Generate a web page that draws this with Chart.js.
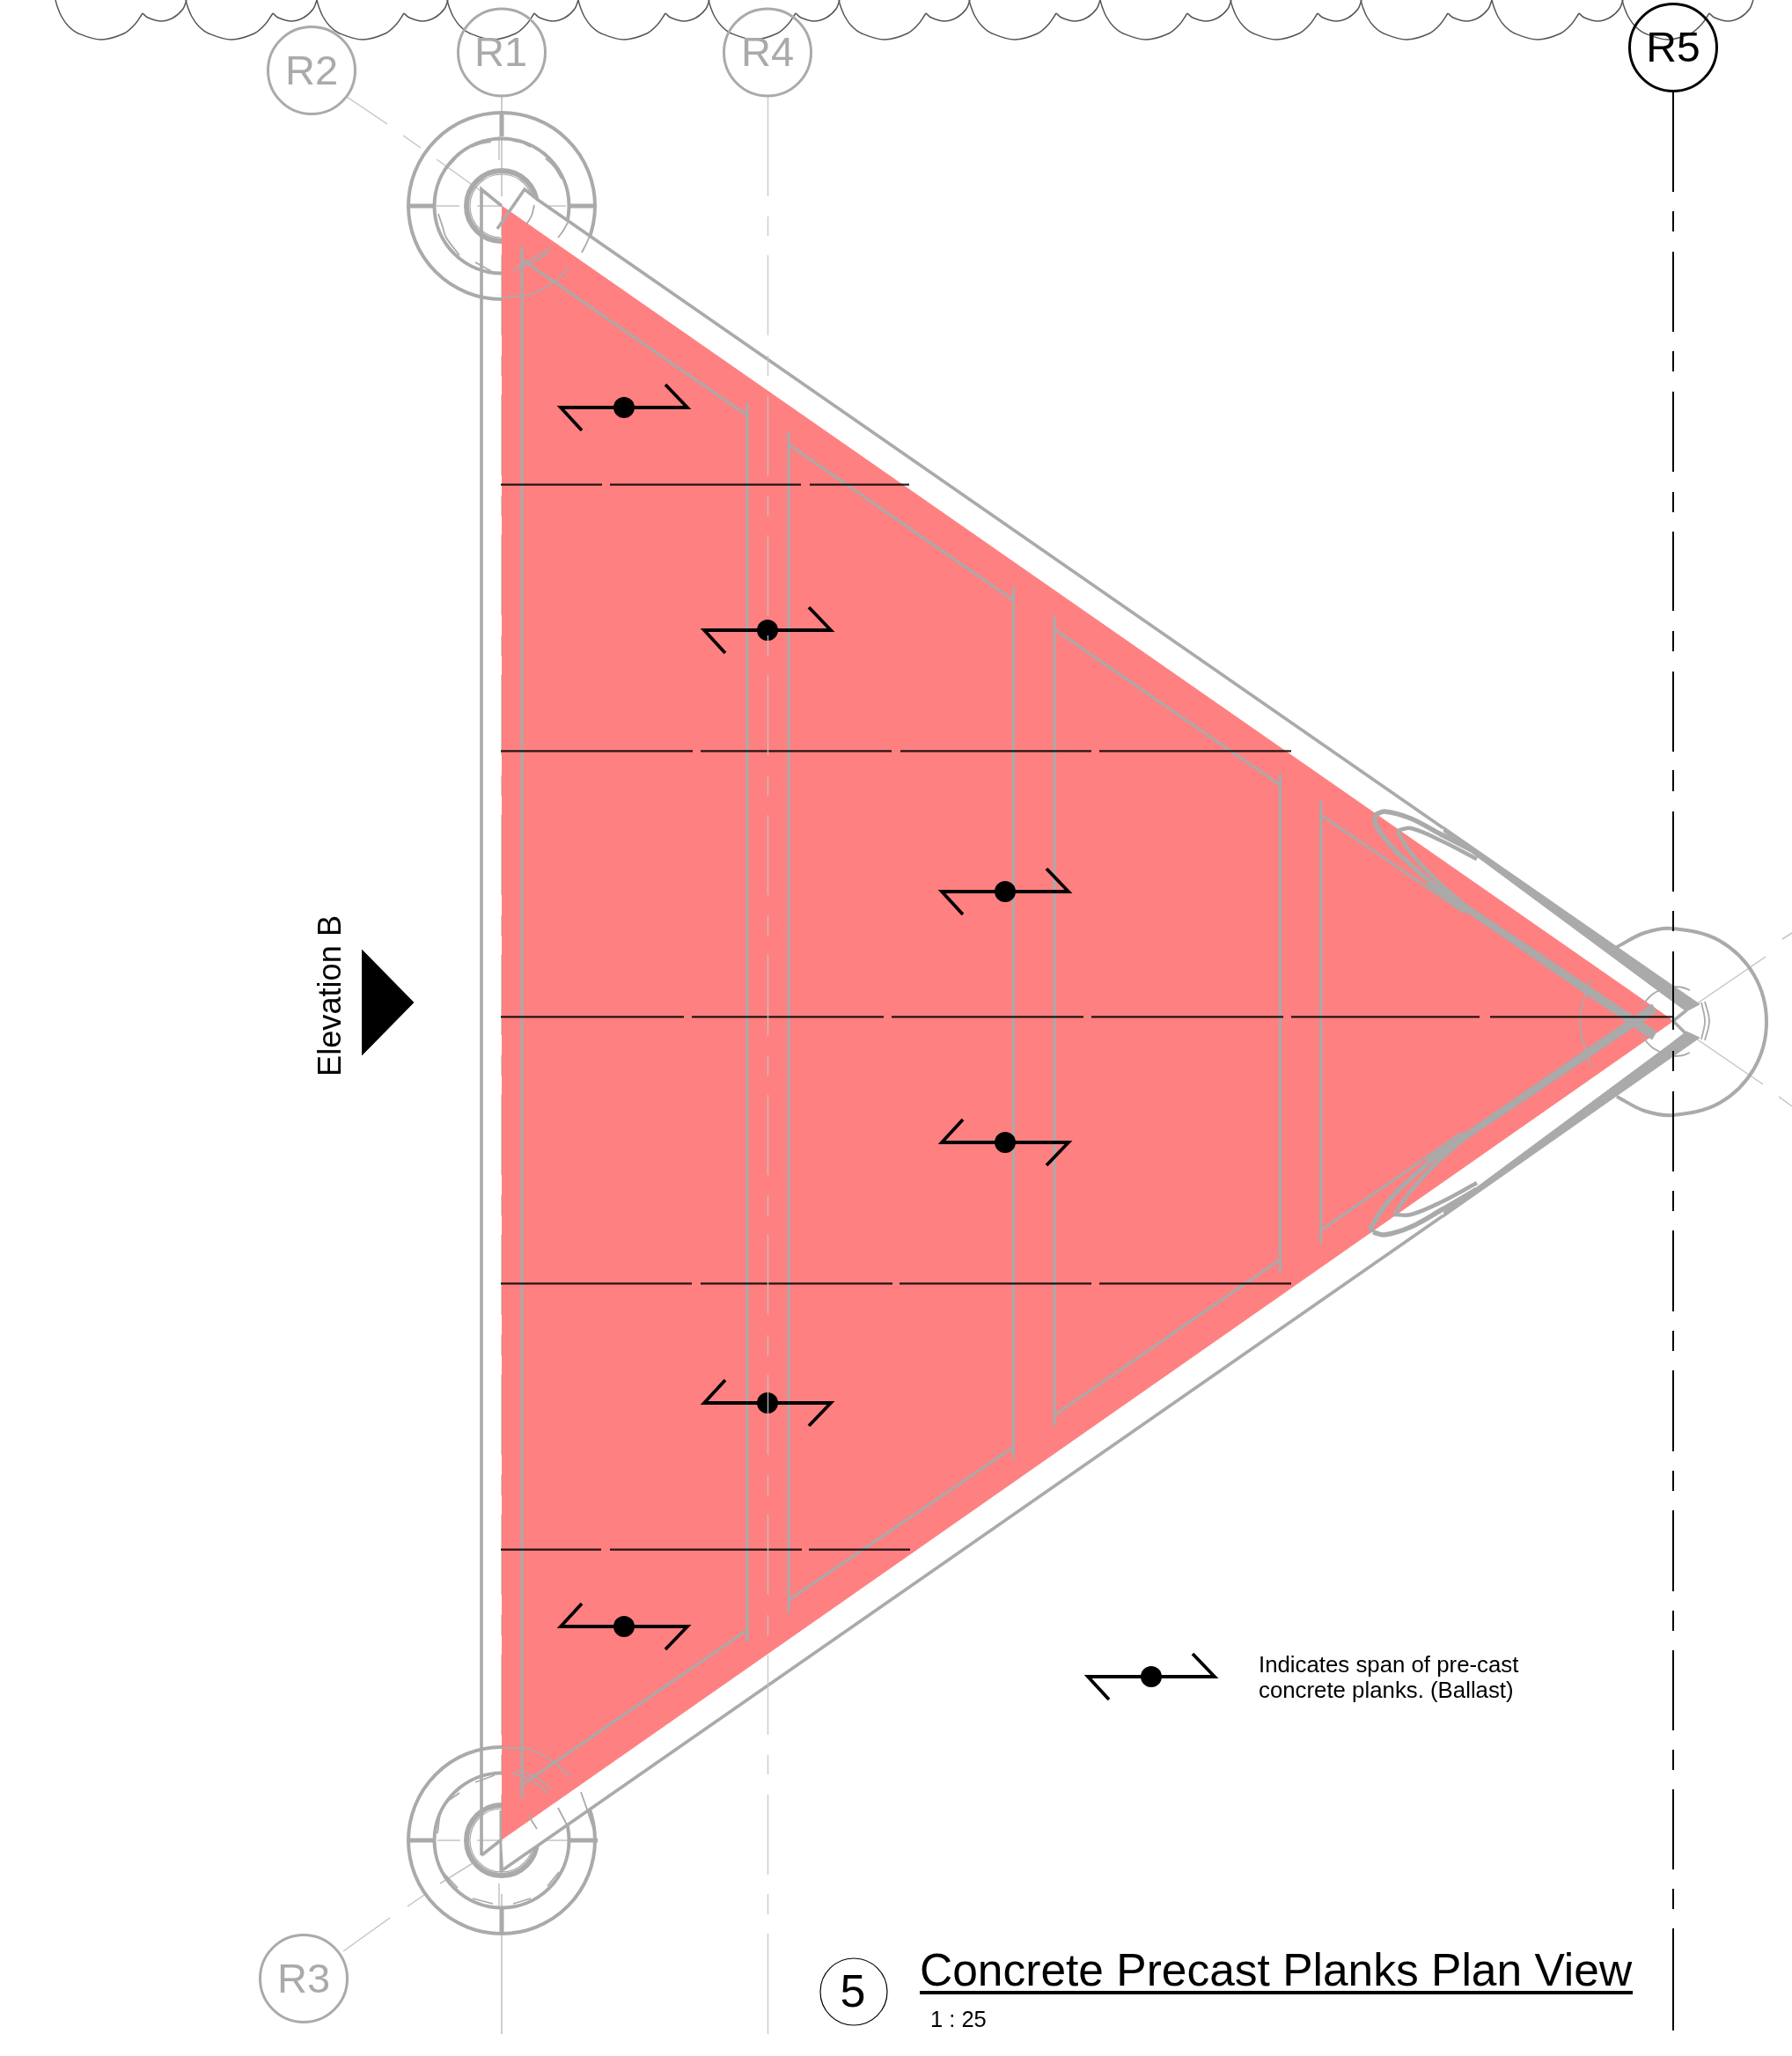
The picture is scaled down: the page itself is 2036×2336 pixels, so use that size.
<!DOCTYPE html>
<html>
<head>
<meta charset="utf-8">
<title>Concrete Precast Planks Plan View</title>
<script src="https://cdn.jsdelivr.net/npm/chart.js@4/dist/chart.umd.js"></script>
<style>
  html, body { margin: 0; padding: 0; background: #fff; }
  canvas { display: block; }
</style>
</head>
<body>
<canvas id="plan" width="2036" height="2336"></canvas>
<script>
const GRAY = "#aaaaaa";
const THIN = "#bdbdbd";
const PINK = "#ff8080";

const cloudStarts = [63, 211, 360, 508, 657, 805, 953, 1101, 1250, 1398, 1546, 1695, 1843];
const cloudLargeArc = [[0, 0], [2, 7], [7, 19], [15, 30], [26, 38], [52, 45], [78, 38], [90, 28], [99, 15]];
const cloudSmallArc = [[99, 15], [105, 20], [120, 24], [134, 20], [145, 10], [149, 0]];

const gridBubbleX = [570, 354, 345, 872];
const gridBubbleY = [59.5, 80, 2248, 59.5];

const columnX = [570, 570];
const columnY = [234, 2091];

const triangle = [[570, 234], [1901, 1160], [570, 2090]];
const upperMask = [[570, 234], [596, 215], [611, 227], [1930, 1142], [1901, 1160]];
const lowerMask = [[570, 2090], [1901, 1160], [1930, 1180], [572, 2124]];

const wallLines = [
  [[547, 2108], [547, 215], [570, 234]],
  [[547, 2108], [570, 2090]],
  [[565, 260], [596, 215], [611, 227], [1640, 941]],
  [[572, 2124], [1640, 1381]],
  [[1916, 1148], [1901, 1160], [1916, 1175]],
];
const wallTapers = [
  [[1640, 939], [1931, 1141], [1916, 1149], [1898, 1136], [1640, 945]],
  [[1640, 1383], [1931, 1179], [1916, 1172], [1898, 1186], [1640, 1377]],
  [[1625, 1000], [1882, 1172], [1877, 1181], [1621, 1005]],
  [[1625, 1322], [1882, 1150], [1877, 1141], [1621, 1317]],
];

const plankOutlines = [
  [[593, 280], [593, 2043]],
  [[593, 295], [849, 472]],
  [[849, 458], [849, 1865]],
  [[849, 1852], [593, 2028]],
  [[896, 490], [896, 1833]],
  [[896, 505], [1151.5, 682]],
  [[1151.5, 667], [1151.5, 1658]],
  [[1151.5, 1644], [896, 1818]],
  [[1198, 700], [1198, 1620]],
  [[1198, 715], [1454.5, 892]],
  [[1454.5, 878], [1454.5, 1446]],
  [[1454.5, 1431], [1198, 1608]],
  [[1500.6, 910], [1500.6, 1413]],
  [[1500.6, 926], [1664, 1037]],
  [[1500.6, 1398], [1661, 1287]],
];

const outerLoopCurves = [
  [[1562, 926], [1573, 922], [1603, 930], [1637, 948], [1678, 969]],
  [[1562, 926], [1563, 937], [1585, 966], [1637, 1012], [1671, 1037]],
  [[1560, 1400], [1573, 1403], [1603, 1394], [1637, 1375], [1678, 1351]],
  [[1560, 1400], [1558, 1394], [1585, 1356], [1637, 1310], [1671, 1285]],
];
const innerLoopCurves = [
  [[1587, 944], [1603, 941], [1637, 955], [1678, 976]],
  [[1587, 944], [1603, 969], [1637, 1005], [1671, 1034]],
  [[1584, 1380], [1603, 1380], [1637, 1366], [1678, 1344]],
  [[1584, 1380], [1603, 1353], [1637, 1317], [1671, 1288]],
];

const plankJointY = [550.7, 853.3, 1155.3, 1458.3, 1760.7];
const plankJointDashes = [
  [[569, 684], [693, 910], [920, 1033]],
  [[569, 787], [796, 1013], [1023, 1240], [1249, 1467]],
  [[569, 777], [786, 1004], [1013, 1231], [1240, 1458], [1467, 1681], [1693, 1901]],
  [[569, 786], [796, 1014], [1022, 1240], [1249, 1467]],
  [[569, 683], [693, 911], [919, 1034]],
];

const gridDashY = [
  [110, 223], [246, 268], [290, 381], [404, 427], [449, 540], [563, 586], [608, 699], [722, 745],
  [767, 858], [881, 904], [926, 1017], [1040, 1063], [1085, 1176], [1199, 1222], [1244, 1335],
  [1358, 1381], [1403, 1494], [1517, 1540], [1562, 1653], [1676, 1699], [1721, 1812], [1835, 1858],
  [1880, 1971], [1994, 2016], [2039, 2130], [2152, 2175], [2197, 2311],
];
const r5DashY = [
  [104, 218], [240, 263], [286, 377], [399, 422], [445, 536], [559, 582], [604, 694], [717, 740],
  [763, 854], [875, 899], [922, 1013], [1035, 1058], [1081, 1170], [1194, 1217], [1240, 1331],
  [1353, 1376], [1398, 1490], [1512, 1535], [1557, 1649], [1671, 1694], [1716, 1808], [1830, 1853],
  [1875, 1966], [1988, 2011], [2033, 2124], [2146, 2169], [2191, 2307],
];

const thinGridLines = [
  // R2 to R1 column
  [[394, 110], [440, 141]], [[458, 154], [478, 168]], [[496, 181], [570, 234]],
  // R3 to R3 column
  [[390, 2217], [443, 2179]], [[463, 2166], [482, 2153]], [[500, 2140], [537, 2117]],
  // crosshairs
  [[496, 234], [522, 234]], [[542, 234], [594, 234]], [[616, 234], [643, 234]],
  [[497, 2091], [523, 2091]], [[542, 2091], [580, 2091]], [[595, 2091], [647, 2091]],
  [[567, 155], [567, 182]], [[567, 2140], [567, 2165]],
  // R5 column
  [[1927, 1141], [2006, 1087]], [[2025, 1067], [2036, 1060]],
  [[1927, 1180], [2003, 1232]], [[2021, 1246], [2036, 1257]],
  [[1820, 1091], [1837, 1075]], [[1820, 1231], [1837, 1246]],
];

const columnTicks = [
  [[570, 127], [570, 155]], [[464, 234], [493, 234]], [[646, 234], [676, 234]],
  [[570, 2167], [570, 2197]], [[463, 2091], [492, 2091]], [[647, 2091], [679, 2091]],
  [[570, 2057], [570, 2127]],
];

const r5OuterArc = [
  [1837, 1076], [1868, 1060], [1901, 1055], [1954, 1069], [1993, 1108], [2007, 1161],
  [1993, 1214], [1954, 1253], [1901, 1267], [1868, 1262], [1837, 1246],
];

const thinArcs = [
  // R1 column
  [[536, 167], [547, 163], [558, 161]], [[583, 160], [593, 162], [603, 167]],
  [[620, 180], [630, 190], [638, 203]], [[498, 207], [507, 192], [518, 180]],
  [[498, 243], [503, 258], [507, 270], [522, 290]], [[540, 298], [558, 308]],
  [[571, 338], [607, 333], [630, 320], [646, 305]], [[661, 287], [667, 275], [672, 263]],
  [[583, 308], [607, 297], [623, 287]], [[587, 303], [610, 291], [625, 282]],
  [[634, 270], [640, 262], [645, 253]], [[598, 255], [604, 245], [607, 233]],
  // R3 column
  [[497, 2083], [503, 2053], [522, 2037]], [[540, 2025], [562, 2017]],
  [[503, 2127], [520, 2145]], [[537, 2157], [560, 2163]], [[583, 2163], [603, 2157]],
  [[622, 2143], [635, 2127]],
  [[570, 1986], [603, 1988], [630, 2003], [647, 2018]],
  [[582, 2015], [603, 2022], [622, 2037]], [[586, 2011], [607, 2018], [626, 2032]],
  [[660, 2036], [667, 2056], [675, 2080]], [[634, 2054], [645, 2075]], [[600, 2062], [610, 2078]],
  // R5 column
  [[1807, 1112], [1795, 1160], [1807, 1212]],
  [[1865, 1143], [1877, 1130], [1890, 1123]], [[1902, 1121], [1912, 1122], [1920, 1125]],
  [[1937, 1138], [1942, 1160], [1937, 1182]], [[1933, 1139], [1937, 1160], [1933, 1181]],
  [[1865, 1177], [1877, 1190], [1890, 1197]], [[1902, 1200], [1912, 1199], [1920, 1196]],
];

const elevationMarker = [[411, 1079], [470, 1139], [411, 1199]];

const spanDownX = [709, 872, 1142, 1308];
const spanDownY = [463, 716, 1013, 1905];
const spanUpX = [1142, 872, 709];
const spanUpY = [1298, 1594, 1848];
const spanShapeDown = [[-48, 26], [-72, 0], [72, 0], [47, -26]];
const spanShapeUp = [[-48, -26], [-72, 0], [72, 0], [47, 26]];

const titleUnderline = [[1045, 2264], [1855, 2264]];

const sheetTexts = [
  { text: "R1", x: 569, y: 75, size: 47, color: GRAY, align: "center" },
  { text: "R2", x: 354, y: 96, size: 47, color: GRAY, align: "center" },
  { text: "R3", x: 345, y: 2264, size: 47, color: GRAY, align: "center" },
  { text: "R4", x: 872, y: 75, size: 47, color: GRAY, align: "center" },
  { text: "R5", x: 1901, y: 70, size: 48, color: "#000", align: "center" },
  { text: "5", x: 969, y: 2280, size: 52, color: "#000", align: "center" },
  { text: "Concrete Precast Planks Plan View", x: 1045, y: 2256, size: 51.5, color: "#000", align: "left" },
  { text: "1 : 25", x: 1057, y: 2303, size: 25.5, color: "#000", align: "left" },
  { text: "Indicates span of pre-cast", x: 1430, y: 1900, size: 25.8, color: "#000", align: "left" },
  { text: "concrete planks. (Ballast)", x: 1430, y: 1929, size: 25.8, color: "#000", align: "left" },
  { text: "Elevation B", x: 387, y: 1223, size: 36.2, color: "#000", align: "left", rotate: true },
];

const datasets = [];

function toPoints(list) {
  return list.map((p) => ({ x: p[0], y: p[1] }));
}

function addLine(points, color, width, tension) {
  datasets.push({
    data: toPoints(points),
    showLine: true,
    fill: false,
    borderColor: color,
    borderWidth: width,
    borderJoinStyle: "miter",
    pointRadius: 0,
    tension: tension || 0,
    clip: false,
  });
}

function addShape(points, color) {
  datasets.push({
    data: toPoints(points),
    showLine: true,
    fill: "shape",
    backgroundColor: color,
    borderColor: color,
    borderWidth: 1,
    pointRadius: 0,
    clip: false,
  });
}

function addCircles(xs, ys, radius, color, width, fillColor) {
  datasets.push({
    data: xs.map((x, i) => ({ x: x, y: ys[i] })),
    showLine: false,
    pointStyle: "circle",
    pointRadius: radius,
    pointBorderColor: color,
    pointBorderWidth: width,
    pointBackgroundColor: fillColor || "transparent",
    clip: false,
  });
}

// back to front
cloudStarts.forEach((start) => {
  addLine(cloudLargeArc.map((p) => [start + p[0], p[1]]), "#555", 1.5, 0.35);
  addLine(cloudSmallArc.map((p) => [start + p[0], p[1]]), "#555", 1.5, 0.35);
});

gridDashY.forEach((d) => addLine([[570, d[0]], [570, d[1]]], THIN, 1.5));
thinGridLines.forEach((l) => addLine(l, "#c4c4c4", 1.5));

addCircles(columnX, columnY, 106, GRAY, 4);
addCircles(columnX, columnY, 76.5, GRAY, 4);
addCircles(columnX, columnY, 40, GRAY, 6);
addCircles(columnX, columnY, 36, GRAY, 1.2);
columnTicks.forEach((l) => addLine(l, GRAY, 5));
addLine(r5OuterArc, GRAY, 4, 0.35);

addShape(upperMask, "#ffffff");
addShape(lowerMask, "#ffffff");
addShape(triangle, PINK);

thinArcs.forEach((a) => addLine(a, GRAY, 1.8, 0.37));
wallLines.forEach((l) => addLine(l, GRAY, 3.6));
plankOutlines.forEach((l) => addLine(l, GRAY, 3.2));
wallTapers.forEach((s) => addShape(s, GRAY));
outerLoopCurves.forEach((c) => addLine(c, GRAY, 5.5, 0.35));
innerLoopCurves.forEach((c) => addLine(c, GRAY, 4.5, 0.35));

plankJointY.forEach((y, i) => {
  plankJointDashes[i].forEach((d) => addLine([[d[0], y], [d[1], y]], "rgba(0,0,0,0.85)", 2.2));
});

spanDownX.forEach((x, i) => {
  addLine(spanShapeDown.map((p) => [x + p[0], spanDownY[i] + p[1]]), "#000", 3.8);
});
spanUpX.forEach((x, i) => {
  addLine(spanShapeUp.map((p) => [x + p[0], spanUpY[i] + p[1]]), "#000", 3.8);
});
addCircles(spanDownX, spanDownY, 12, "#000", 0, "#000");
addCircles(spanUpX, spanUpY, 12, "#000", 0, "#000");

gridDashY.forEach((d) => addLine([[872.5, d[0]], [872.5, d[1]]], "rgba(196,196,196,0.85)", 1.5));
r5DashY.forEach((d) => addLine([[1901, d[0]], [1901, d[1]]], "#000", 2));

addCircles(gridBubbleX, gridBubbleY, 49.5, GRAY, 3);
addCircles([1901], [54], 49.5, "#000", 3);
addCircles([970], [2263], 38, "#000", 1.2);

addShape(elevationMarker, "#000");
addLine(titleUnderline, "#000", 4);

// later datasets sit on top
datasets.forEach((d, i) => { d.order = -i; });

const sheetTextPlugin = {
  id: "sheetText",
  afterDatasetsDraw(chart) {
    const ctx = chart.ctx;
    const xScale = chart.scales.x;
    const yScale = chart.scales.y;
    sheetTexts.forEach((t) => {
      ctx.save();
      ctx.font = t.size + 'px "Liberation Sans", Arial, sans-serif';
      ctx.fillStyle = t.color;
      ctx.textAlign = t.align;
      ctx.textBaseline = "alphabetic";
      ctx.translate(xScale.getPixelForValue(t.x), yScale.getPixelForValue(t.y));
      if (t.rotate) ctx.rotate(-Math.PI / 2);
      ctx.fillText(t.text, 0, 0);
      ctx.restore();
    });
  },
};

new Chart(document.getElementById("plan").getContext("2d"), {
  type: "scatter",
  data: { datasets: datasets },
  options: {
    responsive: false,
    devicePixelRatio: 1,
    animation: false,
    events: [],
    layout: { padding: 0, autoPadding: false },
    scales: {
      x: { type: "linear", min: 0, max: 2036, display: false },
      y: { type: "linear", min: 0, max: 2336, reverse: true, display: false },
    },
    plugins: { legend: { display: false }, tooltip: { enabled: false }, title: { display: false } },
  },
  plugins: [sheetTextPlugin],
});
</script>
</body>
</html>
